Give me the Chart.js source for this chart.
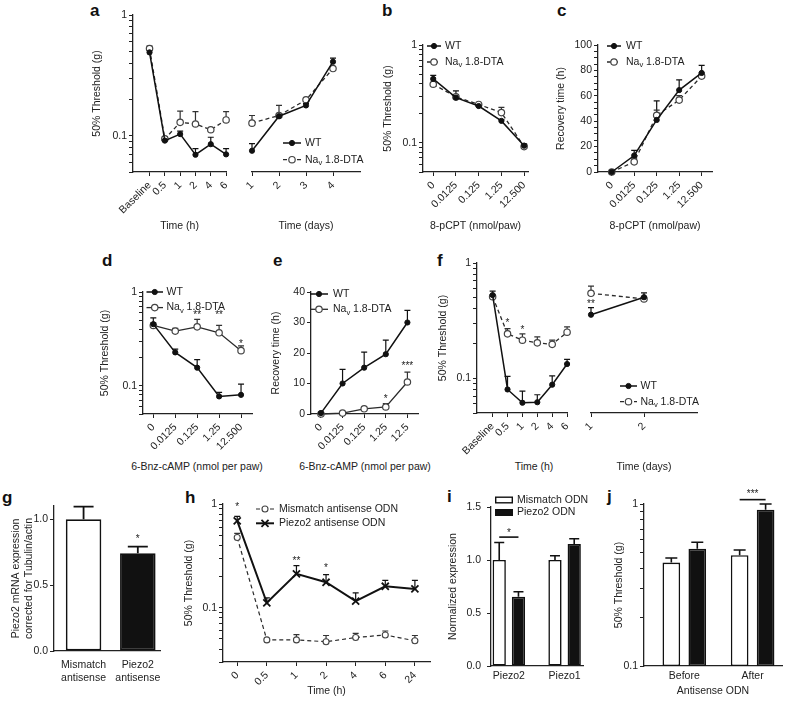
<!DOCTYPE html>
<html>
<head>
<meta charset="utf-8">
<script src="https://cdn.jsdelivr.net/npm/chart.js@4.4.1/dist/chart.umd.min.js"></script>
<style>
  body { margin: 0; background: #fff; width: 788px; height: 701px; position: relative; overflow: hidden; font-family: 'Liberation Sans', Arial, sans-serif; }
  canvas { position: absolute; }
  .lab { position: absolute; font-weight: bold; font-size: 17px; line-height: 17px; color: #111; }
  .xt { position: absolute; width: 200px; text-align: center; font-size: 10.5px; line-height: 12px; color: #222; white-space: nowrap; }
</style>
</head>
<body>
<div class="lab" style="left:90px;top:2px">a</div>
<div class="lab" style="left:382px;top:2px">b</div>
<div class="lab" style="left:557px;top:2px">c</div>
<div class="lab" style="left:102px;top:252px">d</div>
<div class="lab" style="left:273px;top:252px">e</div>
<div class="lab" style="left:437px;top:252px">f</div>
<div class="lab" style="left:2px;top:489px">g</div>
<div class="lab" style="left:185px;top:489px">h</div>
<div class="lab" style="left:447px;top:488px">i</div>
<div class="lab" style="left:607px;top:488px">j</div>

<div class="xt" style="left:97px;top:460px">6-Bnz-cAMP (nmol per paw)</div>
<div class="xt" style="left:265px;top:460px">6-Bnz-cAMP (nmol per paw)</div>
<div class="xt" style="left:434px;top:460px">Time (h)</div>

<canvas id="aL"></canvas><canvas id="aR"></canvas>
<canvas id="b"></canvas><canvas id="c"></canvas>
<canvas id="d"></canvas><canvas id="e"></canvas>
<canvas id="fL"></canvas><canvas id="fR"></canvas>
<canvas id="g"></canvas><canvas id="h"></canvas>
<canvas id="i"></canvas><canvas id="j"></canvas>

<script>
// series names ([text, subscript, text])
const wtName = ['WT'];
const dtaName = ['Na', 'v', ' 1.8-DTA'];
const mismatchAsName = ['Mismatch antisense ODN'];
const piezoAsName = ['Piezo2 antisense ODN'];
const mismatchOdnName = ['Mismatch ODN'];
const piezoOdnName = ['Piezo2 ODN'];

// axis labels
const hourLabels = ['Baseline', '0.5', '1', '2', '4', '6'];
const dayLabelsA = ['1', '2', '3', '4'];
const dayLabelsF = ['1', '2'];
const pcptDoses = ['0', '0.0125', '0.125', '1.25', '12.500'];
const bnzDosesD = ['0', '0.0125', '0.125', '1.25', '12.500'];
const bnzDosesE = ['0', '0.0125', '0.125', '1.25', '12.5'];
const hHours = ['0', '0.5', '1', '2', '4', '6', '24'];
const gLabels = [['Mismatch', 'antisense'], ['Piezo2', 'antisense']];
const iLabels = ['Piezo2', 'Piezo1'];
const jLabels = ['Before', 'After'];
const thresholdLabels = [0.1, 1];
const recoveryLabelsC = [0, 20, 40, 60, 80, 100];
const recoveryLabelsE = [0, 10, 20, 30, 40];
const gTicks = [0, 0.5, 1];
const iTicks = [0, 0.5, 1, 1.5];

// a
const aWtHours = [0.49, 0.091, 0.103, 0.0695, 0.085, 0.07];
const aWtHoursSem = [0.02, 0.004, 0.006, 0.0085, 0.012, 0.008];
const aDtaHours = [0.527, 0.094, 0.129, 0.125, 0.112, 0.135];
const aDtaHoursSem = [0.025, 0.004, 0.031, 0.033, 0.004, 0.023];
const aWtDays = [0.075, 0.145, 0.178, 0.41];
const aWtDaysSem = [0.011, 0.004, 0.006, 0.03];
const aDtaDays = [0.127, 0.147, 0.198, 0.36];
const aDtaDaysSem = [0.02, 0.031, 0.007, 0.01];
// b
const bWt = [0.449, 0.289, 0.237, 0.167, 0.093];
const bWtSem = [0.04, 0.05, 0.01, 0.005, 0.004];
const bDta = [0.396, 0.294, 0.246, 0.203, 0.091];
const bDtaSem = [0.01, 0.01, 0.005, 0.027, 0.004];
// c
const cWt = [0, 13, 41, 64.5, 78];
const cWtSem = [0.5, 4, 15, 8, 6];
const cDta = [0, 8, 44.7, 56.6, 75.5];
const cDtaSem = [0, 3, 4, 3.5, 2.5];
// d
const dWt = [0.454, 0.227, 0.156, 0.077, 0.08];
const dWtSem = [0.075, 0.019, 0.034, 0.008, 0.024];
const dDta = [0.44, 0.383, 0.425, 0.367, 0.237];
const dDtaSem = [0.03, 0.027, 0.085, 0.073, 0.03];
// e
const eWt = [0.3, 10, 15.2, 19.6, 30];
const eWtSem = [0, 4.6, 5.1, 4.6, 4];
const eDta = [0, 0.3, 1.7, 2.3, 10.5];
const eDtaSem = [0, 0, 0.6, 1.1, 3.2];
// f
const fWtHours = [0.527, 0.08, 0.0614, 0.062, 0.088, 0.133];
const fWtHoursSem = [0.043, 0.024, 0.016, 0.01, 0.017, 0.013];
const fDtaHours = [0.51, 0.243, 0.214, 0.203, 0.197, 0.251];
const fDtaHoursSem = [0.02, 0.027, 0.029, 0.026, 0.017, 0.028];
const fWtDays = [0.356, 0.505];
const fWtDaysSem = [0.054, 0.045];
const fDtaDays = [0.546, 0.488];
const fDtaDaysSem = [0.084, 0];
// g
const gValues = [1.0, 0.742];
const gSem = [0.095, 0.05];
// h
const hMismatch = [0.475, 0.049, 0.049, 0.047, 0.0516, 0.0547, 0.048];
const hMismatchSem = [0.045, 0, 0.006, 0.007, 0.005, 0.005, 0.006];
const hPiezo = [0.687, 0.1116, 0.212, 0.176, 0.116, 0.161, 0.152];
const hPiezoSem = [0.073, 0.013, 0.043, 0.033, 0.023, 0.023, 0.032];
// i
const iMismatch = [1.0, 1.0];
const iMismatchSem = [0.165, 0.04];
const iPiezo = [0.653, 1.15];
const iPiezoSem = [0.047, 0.05];
// j
const jMismatch = [0.435, 0.483];
const jMismatchSem = [0.029, 0.037];
const jPiezo = [0.529, 0.923];
const jPiezoSem = [0.051, 0.077];

const family = "'Liberation Sans', Arial, sans-serif";
const ink = '#222';

Chart.defaults.font.family = family;
Chart.defaults.font.size = 10.5;
Chart.defaults.color = ink;
Chart.defaults.animation = false;
Chart.defaults.responsive = false;
Chart.defaults.devicePixelRatio = 1;
Chart.defaults.events = [];
Chart.defaults.plugins.legend.display = false;
Chart.defaults.plugins.tooltip.enabled = false;

// error bars (upper SEM only), drawn from the library's own scale
function drawErrors(chart) {
  const ctx = chart.ctx;
  const y = chart.scales.y;
  chart.data.datasets.forEach((ds, i) => {
    if (!ds.sem) return;
    chart.getDatasetMeta(i).data.forEach((el, k) => {
      const s = ds.sem[k];
      if (!s) return;
      const top = y.getPixelForValue(ds.data[k].y + s);
      const half = ds.capHalf || 3;
      ctx.save();
      ctx.setLineDash([]);
      ctx.strokeStyle = ds.errColor || '#111';
      ctx.lineWidth = ds.errWidth || 1.2;
      ctx.beginPath();
      ctx.moveTo(el.x, el.y);
      ctx.lineTo(el.x, top);
      ctx.moveTo(el.x - half, top);
      ctx.lineTo(el.x + half, top);
      ctx.stroke();
      ctx.restore();
    });
  });
}
Chart.register({
  id: 'errorBars',
  beforeDatasetsDraw(chart) { if (chart.config.type !== 'bar') drawErrors(chart); },
  afterDatasetsDraw(chart) { if (chart.config.type === 'bar') drawErrors(chart); }
});

function drawMarker(ctx, st, x, y) {
  const r = st.pointRadius;
  ctx.lineWidth = st.pointBorderWidth;
  ctx.strokeStyle = st.pointBorderColor;
  ctx.fillStyle = st.pointBackgroundColor;
  ctx.beginPath();
  if (st.pointStyle === 'crossRot') {
    const d = r * Math.SQRT1_2;
    ctx.moveTo(x - d, y - d); ctx.lineTo(x + d, y + d);
    ctx.moveTo(x + d, y - d); ctx.lineTo(x - d, y + d);
    ctx.stroke();
  } else {
    ctx.arc(x, y, r, 0, Math.PI * 2);
    ctx.fill();
    ctx.stroke();
  }
}

function drawName(ctx, x, y, name, size) {
  ctx.textAlign = 'left';
  ctx.textBaseline = 'middle';
  ctx.fillStyle = ink;
  name.forEach((part, p) => {
    const sub = p === 1;
    ctx.font = (sub ? size * 0.72 : size) + 'px ' + family;
    ctx.fillText(part, x, y + (sub ? size * 0.3 : 0));
    x += ctx.measureText(part).width;
  });
}

function legendPlugin(cfg) {
  return {
    id: 'inlineLegend',
    afterDraw(chart) {
      const { ctx, chartArea } = chart;
      cfg.items.forEach((it, k) => {
        const x0 = chartArea.left + cfg.dx;
        const y0 = chartArea.top + cfg.dy + k * cfg.gap;
        ctx.save();
        if (it.box) {
          ctx.fillStyle = it.backgroundColor;
          ctx.strokeStyle = '#111';
          ctx.lineWidth = 1.4;
          ctx.fillRect(x0, y0 - cfg.boxH / 2, cfg.len, cfg.boxH);
          ctx.strokeRect(x0 + 0.7, y0 - cfg.boxH / 2 + 0.7, cfg.len - 1.4, cfg.boxH - 1.4);
        } else {
          ctx.strokeStyle = it.borderColor;
          ctx.lineWidth = it.borderWidth;
          ctx.setLineDash(it.borderDash || []);
          ctx.beginPath();
          ctx.moveTo(x0, y0);
          ctx.lineTo(x0 + cfg.len, y0);
          ctx.stroke();
          ctx.setLineDash([]);
          drawMarker(ctx, it, x0 + cfg.len / 2, y0);
        }
        drawName(ctx, x0 + cfg.len + cfg.textGap, y0, it.name, cfg.size || 10.5);
        ctx.restore();
      });
    }
  };
}

function starsPlugin(items) {
  return {
    id: 'stars',
    afterDatasetsDraw(chart) {
      const { ctx, scales: { x, y } } = chart;
      ctx.save();
      ctx.fillStyle = ink;
      ctx.font = '10px ' + family;
      ctx.textAlign = 'center';
      ctx.textBaseline = 'middle';
      items.forEach(s => ctx.fillText(s.t, x.getPixelForValue(s.x), y.getPixelForValue(s.y)));
      ctx.restore();
    }
  };
}

function sigPlugin(items) {
  return {
    id: 'sig',
    afterDatasetsDraw(chart) {
      const ctx = chart.ctx;
      const y = chart.scales.y;
      const m0 = chart.getDatasetMeta(0), m1 = chart.getDatasetMeta(1);
      items.forEach(s => {
        const xa = m0.data[s.g].x, xb = m1.data[s.g].x;
        const yl = y.getPixelForValue(s.line);
        ctx.save();
        ctx.strokeStyle = '#111';
        ctx.lineWidth = 1.6;
        ctx.beginPath();
        ctx.moveTo(xa, yl);
        ctx.lineTo(xb, yl);
        ctx.stroke();
        ctx.fillStyle = ink;
        ctx.font = '10px ' + family;
        ctx.textAlign = 'center';
        ctx.textBaseline = 'middle';
        ctx.fillText(s.t, (xa + xb) / 2, y.getPixelForValue(s.star));
        ctx.restore();
      });
    }
  };
}

// canvas placement: chart area given in page pixels
function frame(id, x, y, w, h, ca) {
  const cv = document.getElementById(id);
  cv.width = w;
  cv.height = h;
  cv.style.left = x + 'px';
  cv.style.top = y + 'px';
  return {
    cv,
    yWidth: ca.l - x,
    xHeight: y + h - ca.b,
    pad(showY) { return { left: showY ? 0 : ca.l - x, top: ca.t - y, right: x + w - ca.r, bottom: 0 }; }
  };
}

const grid = { display: true, drawOnChartArea: false, drawTicks: true, tickLength: 4, color: ink, lineWidth: 1, offset: false };
const noGrid = { display: false, drawTicks: false, offset: false };
const border = { display: true, color: ink, width: 1.3 };

function logTicks(min, max) {
  const out = [];
  for (let e = Math.floor(Math.log10(min)); e <= Math.ceil(Math.log10(max)); e++) {
    for (let k = 1; k <= 9; k++) {
      const v = +(k * Math.pow(10, e)).toPrecision(6);
      if (v >= min - 1e-12 && v <= max + 1e-12) out.push(v);
    }
  }
  return out;
}

function title(text, size) {
  const t = { display: !!text, text: text || '', padding: 0 };
  if (size) t.font = { size };
  return t;
}

function yLog(fr, min, max, text) {
  return {
    type: 'logarithmic', min, max,
    afterBuildTicks: s => { s.ticks = logTicks(min, max).map(v => ({ value: v })); },
    afterFit: s => { s.width = fr.yWidth; },
    ticks: { autoSkip: false, padding: 2, callback: v => thresholdLabels.some(t => Math.abs(t - v) < 1e-9) ? String(v) : '' },
    grid, border,
    title: title(text)
  };
}

function yLin(fr, min, max, tickValues, fmt, text, opt) {
  opt = opt || {};
  return {
    type: 'linear', min, max,
    afterBuildTicks: s => { s.ticks = tickValues.map(v => ({ value: v })); },
    afterFit: s => { s.width = fr.yWidth; },
    ticks: { autoSkip: false, padding: opt.pad || 2, callback: fmt },
    grid, border,
    title: title(text, opt.titleSize)
  };
}

function xIndex(fr, labels, min, max, opt) {
  opt = opt || {};
  const rot = opt.rot === undefined ? 45 : opt.rot;
  return {
    type: 'linear', min, max, offset: false,
    afterBuildTicks: s => { s.ticks = labels.map((_, k) => ({ value: k })); },
    afterFit: s => { s.height = fr.xHeight; },
    ticks: { autoSkip: false, maxRotation: rot, minRotation: rot, padding: opt.pad === undefined ? 3 : opt.pad, callback: v => labels[v] },
    grid: opt.noTicks ? noGrid : grid,
    border,
    title: title(opt.title)
  };
}

function series(values, sem, style) {
  return Object.assign({ data: values.map((v, k) => ({ x: k, y: v })), sem, clip: false, fill: false, tension: 0 }, style);
}

const wtStyle = { borderColor: '#111', borderWidth: 1.5, pointRadius: 2.6, pointBackgroundColor: '#111', pointBorderColor: '#111', pointBorderWidth: 1, errColor: '#111' };
const dtaDashed = { borderColor: '#2a2a2a', borderWidth: 1.3, borderDash: [4, 3], pointRadius: 3.2, pointBackgroundColor: '#fff', pointBorderColor: '#444', pointBorderWidth: 1.2, errColor: '#333' };
const dtaSolid = Object.assign({}, dtaDashed, { borderDash: [] });
const mismatchStyle = { borderColor: '#2a2a2a', borderWidth: 1.2, borderDash: [4, 3], pointRadius: 3, pointBackgroundColor: '#fff', pointBorderColor: '#444', pointBorderWidth: 1.1, errColor: '#333' };
const piezoStyle = { borderColor: '#111', borderWidth: 2, pointStyle: 'crossRot', pointRadius: 5, pointBackgroundColor: '#111', pointBorderColor: '#111', pointBorderWidth: 1.8, errColor: '#111' };

function lineChart(fr, showY, datasets, x, y, plugins) {
  return new Chart(fr.cv, {
    type: 'line',
    data: { datasets },
    options: { layout: { padding: fr.pad(showY) }, scales: { x, y } },
    plugins: plugins || []
  });
}

const hiddenLog = (min, max) => ({ type: 'logarithmic', min, max, display: false });
const num = v => String(v);
const fixed1 = v => v.toFixed(1);

// ---- a ----
const frAL = frame('aL', 91, 5, 147, 227, { l: 133, t: 15, r: 230, b: 172 });
lineChart(frAL, true,
  [series(aWtHours, aWtHoursSem, wtStyle), series(aDtaHours, aDtaHoursSem, dtaDashed)],
  xIndex(frAL, hourLabels, -1.08, 5, { title: 'Time (h)' }),
  yLog(frAL, 0.05, 1, '50% Threshold (g)'));

const frAR = frame('aR', 236, 5, 136, 227, { l: 252, t: 15, r: 360, b: 172 });
lineChart(frAR, false,
  [series(aWtDays, aWtDaysSem, wtStyle), series(aDtaDays, aDtaDaysSem, dtaDashed)],
  xIndex(frAR, dayLabelsA, 0, 4, { title: 'Time (days)' }),
  hiddenLog(0.05, 1),
  [legendPlugin({ dx: 31, dy: 128, gap: 16.7, len: 18, textGap: 4,
    items: [Object.assign({ name: wtName }, wtStyle), Object.assign({ name: dtaName }, dtaDashed)] })]);

// ---- b ----
const frB = frame('b', 382, 35, 156, 197, { l: 423, t: 45, r: 528, b: 172 });
lineChart(frB, true,
  [series(bWt, bWtSem, wtStyle), series(bDta, bDtaSem, dtaDashed)],
  xIndex(frB, pcptDoses, -0.45, 4.17, { title: '8-pCPT (nmol/paw)' }),
  yLog(frB, 0.05, 1, '50% Threshold (g)'),
  [legendPlugin({ dx: 4, dy: 1, gap: 16, len: 14, textGap: 4,
    items: [Object.assign({ name: wtName }, wtStyle), Object.assign({ name: dtaName }, dtaDashed)] })]);

// ---- c ----
const cTickValues = [];
for (let v = 0; v <= 100; v += 5) cTickValues.push(v);
const frC = frame('c', 555, 35, 167, 197, { l: 598, t: 45, r: 712, b: 172 });
lineChart(frC, true,
  [series(cWt, cWtSem, wtStyle), series(cDta, cDtaSem, dtaDashed)],
  xIndex(frC, pcptDoses, -0.61, 4.46, { title: '8-pCPT (nmol/paw)' }),
  yLin(frC, 0, 100, cTickValues, v => recoveryLabelsC.includes(v) ? String(v) : '', 'Recovery time (h)'),
  [legendPlugin({ dx: 9, dy: 1, gap: 16, len: 14, textGap: 5,
    items: [Object.assign({ name: wtName }, wtStyle), Object.assign({ name: dtaName }, dtaDashed)] })]);

// ---- d ----
const frD = frame('d', 99, 280, 163, 193, { l: 143, t: 292, r: 252, b: 414 });
lineChart(frD, true,
  [series(dWt, dWtSem, wtStyle), series(dDta, dDtaSem, dtaSolid)],
  xIndex(frD, bnzDosesD, -0.47, 4.5),
  yLog(frD, 0.05, 1, '50% Threshold (g)'),
  [legendPlugin({ dx: 3.5, dy: 0, gap: 15.6, len: 16.5, textGap: 3.5,
    items: [Object.assign({ name: wtName }, wtStyle), Object.assign({ name: dtaName }, dtaSolid)] }),
   starsPlugin([{ x: 2, y: 0.57, t: '**' }, { x: 3, y: 0.57, t: '**' }, { x: 4, y: 0.28, t: '*' }])]);

// ---- e ----
const frE = frame('e', 270, 280, 158, 193, { l: 311, t: 292, r: 418, b: 414 });
lineChart(frE, true,
  [series(eWt, eWtSem, wtStyle), series(eDta, eDtaSem, dtaSolid)],
  xIndex(frE, bnzDosesE, -0.46, 4.49),
  yLin(frE, 0, 40, recoveryLabelsE, num, 'Recovery time (h)'),
  [legendPlugin({ dx: -1, dy: 2, gap: 15.3, len: 18, textGap: 5,
    items: [Object.assign({ name: wtName }, wtStyle), Object.assign({ name: dtaName }, dtaSolid)] }),
   starsPlugin([{ x: 3, y: 5.0, t: '*' }, { x: 4, y: 15.7, t: '***' }])]);

// ---- f ----
const frFL = frame('fL', 437, 251, 142, 222, { l: 477, t: 263, r: 571, b: 413 });
lineChart(frFL, true,
  [series(fWtHours, fWtHoursSem, wtStyle), series(fDtaHours, fDtaHoursSem, dtaDashed)],
  xIndex(frFL, hourLabels, -1.05, 5),
  yLog(frFL, 0.05, 1, '50% Threshold (g)'),
  [starsPlugin([{ x: 1, y: 0.30, t: '*' }, { x: 2, y: 0.263, t: '*' }])]);

const frFR = frame('fR', 575, 251, 132, 222, { l: 591, t: 263, r: 697, b: 413 });
lineChart(frFR, false,
  [series(fWtDays, fWtDaysSem, wtStyle), series(fDtaDays, fDtaDaysSem, dtaDashed)],
  xIndex(frFR, dayLabelsF, 0, 2, { title: 'Time (days)' }),
  hiddenLog(0.05, 1),
  [legendPlugin({ dx: 29, dy: 123, gap: 15.7, len: 17, textGap: 3.5,
    items: [Object.assign({ name: wtName }, wtStyle), Object.assign({ name: dtaName }, dtaDashed)] }),
   starsPlugin([{ x: 0, y: 0.435, t: '**' }])]);

// ---- g ----
const frG = frame('g', 10, 494, 160, 197, { l: 54, t: 506, r: 162, b: 651 });
new Chart(frG.cv, {
  type: 'bar',
  data: { datasets: [{
    data: gValues.map((v, k) => ({ x: k, y: v })), sem: gSem, capHalf: 10, errWidth: 1.8,
    backgroundColor: ['#fff', '#111'], borderColor: '#111', borderWidth: 1.8, borderSkipped: false,
    categoryPercentage: 1, barPercentage: 0.655
  }] },
  options: {
    layout: { padding: frG.pad(true) },
    scales: {
      x: xIndex(frG, gLabels, -0.545, 1.42, { rot: 0, pad: 8, noTicks: true }),
      y: yLin(frG, 0, 1.1, gTicks, fixed1, ['Piezo2 mRNA expression', 'corrected for Tubulin/actin'], { pad: 2 })
    }
  },
  plugins: [starsPlugin([{ x: 1, y: 0.848, t: '*' }])]
});

// ---- h ----
const frH = frame('h', 183, 492, 257, 205, { l: 223, t: 504, r: 430, b: 662 });
lineChart(frH, true,
  [series(hMismatch, hMismatchSem, mismatchStyle), series(hPiezo, hPiezoSem, piezoStyle)],
  xIndex(frH, hHours, -0.48, 6.51, { title: 'Time (h)' }),
  yLog(frH, 0.03, 1, '50% Threshold (g)'),
  [legendPlugin({ dx: 33, dy: 5, gap: 14.3, len: 18, textGap: 5,
    items: [Object.assign({ name: mismatchAsName }, mismatchStyle), Object.assign({ name: piezoAsName }, piezoStyle)] }),
   starsPlugin([{ x: 0, y: 0.935, t: '*' }, { x: 2, y: 0.283, t: '**' }, { x: 3, y: 0.24, t: '*' }])]);

// ---- i ----
const frI = frame('i', 447, 487, 153, 203, { l: 491, t: 507, r: 583, b: 666 });
new Chart(frI.cv, {
  type: 'bar',
  data: { datasets: [
    { data: iMismatch.map((v, k) => ({ x: k, y: v })), sem: iMismatchSem, capHalf: 5, errWidth: 1.6,
      backgroundColor: '#fff', borderColor: '#111', borderWidth: 1.6, borderSkipped: false,
      categoryPercentage: 0.69, barPercentage: 0.69 },
    { data: iPiezo.map((v, k) => ({ x: k, y: v })), sem: iPiezoSem, capHalf: 5, errWidth: 1.6,
      backgroundColor: '#111', borderColor: '#111', borderWidth: 1.6, borderSkipped: false,
      categoryPercentage: 0.69, barPercentage: 0.69 }
  ] },
  options: {
    layout: { padding: frI.pad(true) },
    scales: {
      x: xIndex(frI, iLabels, -0.32, 1.33, { rot: 0, pad: 4, noTicks: true }),
      y: yLin(frI, 0, 1.5, iTicks, fixed1, 'Normalized expression', { pad: 6 })
    }
  },
  plugins: [
    legendPlugin({ dx: 4, dy: -7, gap: 12.5, len: 18, textGap: 4, boxH: 7,
      items: [{ name: mismatchOdnName, box: true, backgroundColor: '#fff' }, { name: piezoOdnName, box: true, backgroundColor: '#111' }] }),
    sigPlugin([{ g: 0, line: 1.216, star: 1.257, t: '*' }])
  ]
});

// ---- j ----
const frJ = frame('j', 613, 486, 175, 211, { l: 644, t: 504, r: 782, b: 666 });
new Chart(frJ.cv, {
  type: 'bar',
  data: { datasets: [
    { data: jMismatch.map((v, k) => ({ x: k, y: v })), sem: jMismatchSem, capHalf: 6, errWidth: 1.6,
      backgroundColor: '#fff', borderColor: '#111', borderWidth: 1.6, borderSkipped: false,
      categoryPercentage: 0.76, barPercentage: 0.68 },
    { data: jPiezo.map((v, k) => ({ x: k, y: v })), sem: jPiezoSem, capHalf: 6, errWidth: 1.6,
      backgroundColor: '#111', borderColor: '#111', borderWidth: 1.6, borderSkipped: false,
      categoryPercentage: 0.76, barPercentage: 0.68 }
  ] },
  options: {
    layout: { padding: frJ.pad(true) },
    scales: {
      x: xIndex(frJ, jLabels, -0.59, 1.43, { rot: 0, pad: 4, noTicks: true, title: 'Antisense ODN' }),
      y: yLog(frJ, 0.1, 1, '50% Threshold (g)')
    }
  },
  plugins: [sigPlugin([{ g: 1, line: 1.064, star: 1.143, t: '***' }])]
});
</script>
</body>
</html>
